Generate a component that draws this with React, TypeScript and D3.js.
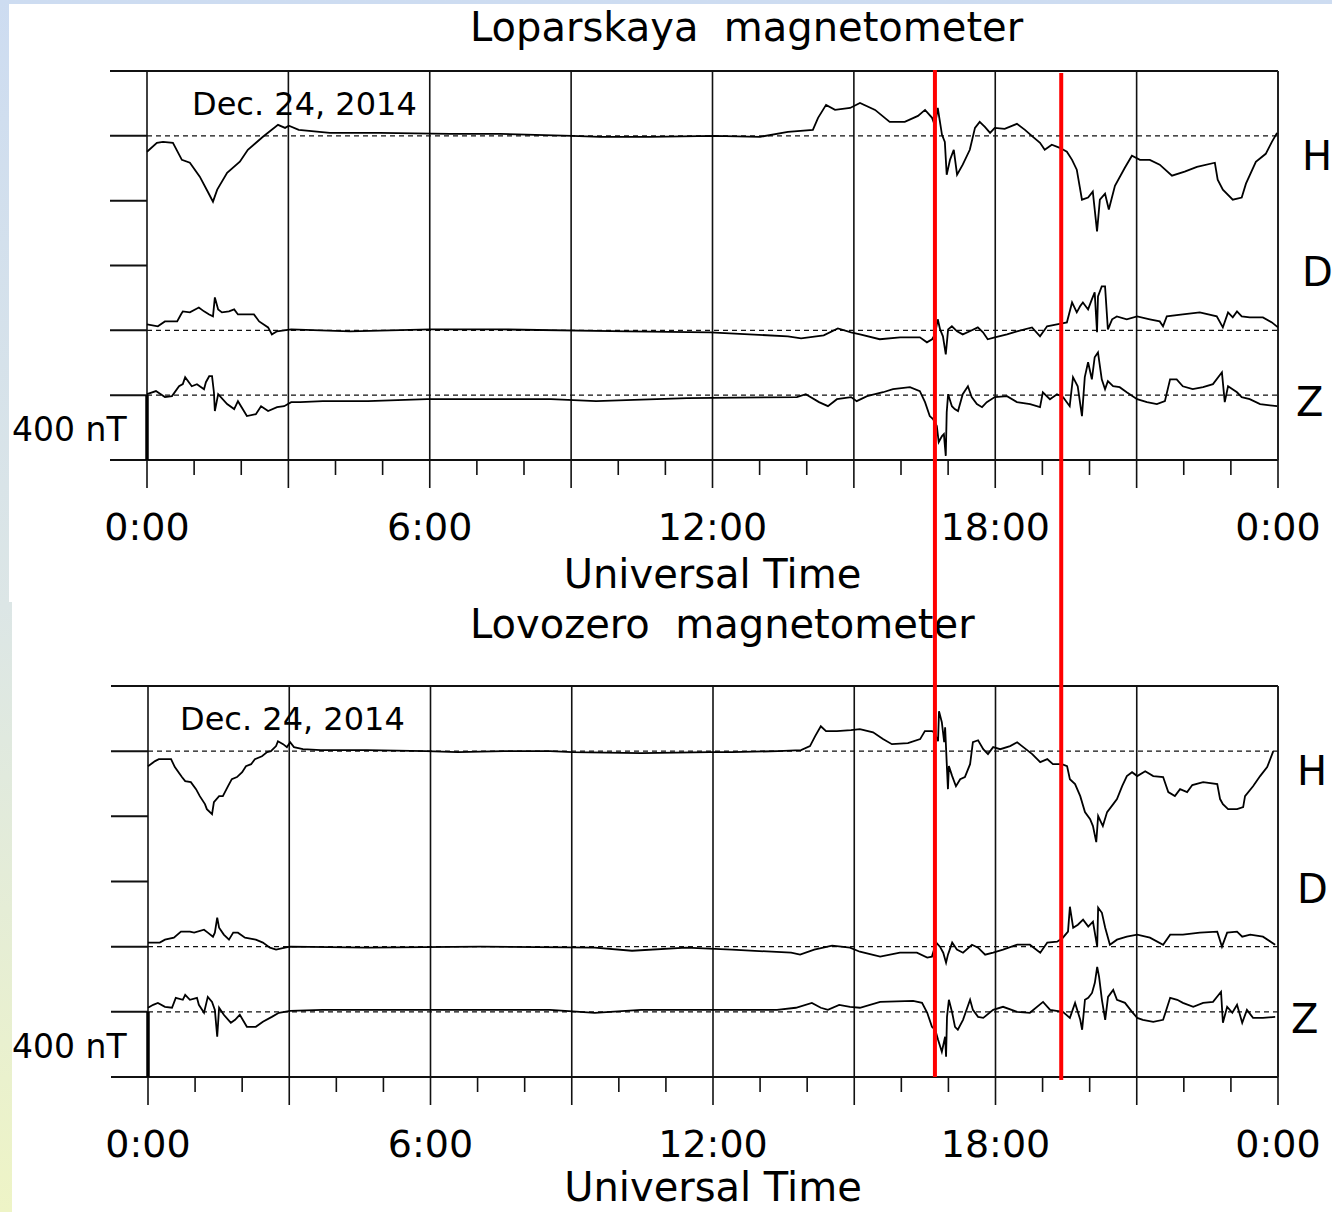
import React from "react";
import * as d3 from "d3";

// ---- data: [hour UT, nT relative to the component baseline] ----
const lopH: [number, number][] = [
  [0.0, -98], [0.21, -43], [0.34, -37], [0.55, -43], [0.74, -148], [0.91, -166], [1.12, -252],
  [1.29, -345], [1.4, -406], [1.49, -332], [1.7, -228], [1.97, -160], [2.14, -86], [2.46, -6],
  [2.78, 68], [2.93, 49], [3.01, 62], [3.22, 37], [3.88, 18], [4.94, 18], [6.43, 12], [7.49, 12],
  [9.02, 0], [9.61, -6], [10.67, -6], [12.03, 0], [13.01, -6], [13.6, 25], [14.13, 37], [14.24, 111],
  [14.41, 191], [14.6, 160], [14.92, 172], [15.13, 203], [15.45, 160], [15.76, 86], [16.08, 86],
  [16.36, 123], [16.51, 160], [16.66, 111], [16.72, 62], [16.78, 172], [16.87, 6], [16.93, -37],
  [16.97, -240], [17.04, -148], [17.12, -86], [17.19, -240], [17.31, -178], [17.46, -86], [17.57, 49],
  [17.67, 86], [17.78, 55], [17.89, 18], [17.99, 49], [18.2, 43], [18.46, 74], [18.63, 37],
  [18.8, -6], [18.95, -43], [19.05, -86], [19.2, -55], [19.37, -74], [19.52, -98], [19.63, -148],
  [19.73, -209], [19.84, -394], [19.97, -381], [20.07, -344], [20.16, -590], [20.22, -394],
  [20.33, -357], [20.41, -455], [20.54, -308], [20.75, -197], [20.9, -123], [21.07, -148],
  [21.28, -148], [21.49, -178], [21.75, -246], [22.02, -221], [22.28, -191], [22.66, -166],
  [22.72, -271], [22.83, -332], [23.04, -394], [23.23, -381], [23.32, -295], [23.53, -160],
  [23.74, -111], [23.87, -37], [23.98, 18],
];

const lopD: [number, number][] = [
  [0.0, 37], [0.23, 25], [0.38, 55], [0.64, 55], [0.72, 98], [0.76, 117], [0.91, 111], [1.1, 141],
  [1.21, 117], [1.32, 98], [1.4, 86], [1.44, 203], [1.51, 129], [1.59, 111], [1.74, 117], [1.85, 129],
  [1.93, 98], [2.08, 98], [2.27, 98], [2.38, 55], [2.57, 18], [2.65, -25], [2.76, -6], [3.06, 6],
  [4.31, -6], [6.0, 6], [7.49, 6], [10.21, -6], [11.95, -12], [13.6, -37], [13.88, -49], [14.36, -31],
  [14.66, 12], [14.94, -12], [15.13, -25], [15.55, -55], [15.98, -43], [16.4, -43], [16.55, -74],
  [16.66, -55], [16.72, -25], [16.78, 68], [16.83, 6], [16.89, -37], [16.95, -148], [17.0, 6],
  [17.08, 25], [17.19, -6], [17.31, -25], [17.46, -6], [17.63, 18], [17.74, -12], [17.84, -55],
  [17.99, -43], [18.25, -25], [18.46, -6], [18.78, 18], [18.95, -37], [19.1, 25], [19.31, 37],
  [19.52, 49], [19.63, 172], [19.73, 111], [19.8, 148], [19.86, 172], [19.97, 129], [20.05, 191],
  [20.11, 234], [20.16, -12], [20.18, 209], [20.26, 271], [20.33, 271], [20.39, 6], [20.48, 68],
  [20.58, 86], [20.79, 68], [21.01, 86], [21.28, 68], [21.49, 55], [21.56, 25], [21.64, 86],
  [21.98, 98], [22.34, 111], [22.7, 86], [22.83, 18], [22.94, 111], [23.04, 80], [23.13, 117],
  [23.23, 86], [23.4, 80], [23.68, 80], [23.87, 49], [24.0, 18],
];

const lopZ: [number, number][] = [
  [0.0, 6], [0.19, 25], [0.38, -12], [0.53, -6], [0.68, 55], [0.76, 68], [0.81, 111], [0.95, 55],
  [1.06, 68], [1.21, 37], [1.25, 80], [1.32, 117], [1.38, 117], [1.42, 18], [1.44, -98], [1.51, 6],
  [1.7, -55], [1.85, -86], [1.93, -37], [2.12, -129], [2.31, -117], [2.42, -68], [2.57, -98],
  [2.76, -74], [2.91, -68], [3.06, -43], [3.25, -43], [3.73, -37], [4.69, -37], [5.94, -25],
  [8.57, -25], [9.53, -37], [11.46, -18], [13.79, -12], [13.98, 6], [14.26, -43], [14.45, -68],
  [14.64, -25], [14.94, -12], [15.06, -37], [15.28, -6], [15.62, 18], [15.83, 37], [16.19, 49],
  [16.4, 25], [16.51, -43], [16.61, -129], [16.68, -148], [16.76, -191], [16.8, -289], [16.87, -252],
  [16.91, -240], [16.95, -375], [16.97, -105], [17.0, 6], [17.08, -68], [17.14, -86], [17.21, -98],
  [17.31, 6], [17.42, 55], [17.5, -12], [17.61, -55], [17.72, -74], [17.82, -43], [17.99, -12],
  [18.25, -6], [18.46, -43], [18.74, -55], [18.95, -74], [19.01, 18], [19.16, -25], [19.31, 6],
  [19.44, -12], [19.58, -68], [19.65, 111], [19.75, 55], [19.84, -129], [19.9, 111], [19.97, 203],
  [20.05, 98], [20.11, 234], [20.18, 264], [20.26, 98], [20.33, 37], [20.39, 86], [20.5, 55],
  [20.64, 49], [20.79, 18], [21.01, -25], [21.22, -43], [21.43, -55], [21.6, -37], [21.71, 98],
  [21.85, 98], [21.98, 55], [22.19, 37], [22.41, 49], [22.62, 68], [22.81, 141], [22.87, -43],
  [22.94, 55], [23.13, 18], [23.23, -12], [23.4, -25], [23.62, -55], [23.98, -68],
];

const lovH: [number, number][] = [
  [0.0, -92], [0.15, -61], [0.23, -49], [0.49, -49], [0.57, -98], [0.72, -159], [0.79, -184],
  [0.91, -190], [1.02, -233], [1.1, -276], [1.21, -325], [1.25, -356], [1.36, -386], [1.4, -313],
  [1.51, -276], [1.59, -276], [1.7, -215], [1.78, -172], [1.89, -159], [2.0, -129], [2.08, -92],
  [2.19, -80], [2.27, -49], [2.42, -31], [2.53, -6], [2.61, 0], [2.72, 31], [2.76, 61], [2.87, 43],
  [2.95, 25], [3.02, 55], [3.1, 25], [3.29, 12], [3.67, 6], [4.65, 6], [5.9, 0], [6.58, -6],
  [7.56, 0], [8.54, 0], [9.01, -6], [10.47, -12], [11.94, -6], [12.4, -6], [13.38, 0], [13.87, 6],
  [14.06, 31], [14.17, 92], [14.29, 153], [14.4, 123], [14.63, 123], [14.93, 129], [15.12, 135],
  [15.4, 116], [15.61, 74], [15.8, 43], [16.14, 49], [16.4, 74], [16.5, 123], [16.65, 123],
  [16.7, 116], [16.78, 61], [16.8, 245], [16.86, 178], [16.91, 55], [16.93, 147], [16.97, -110],
  [16.99, -233], [17.01, -92], [17.08, -153], [17.16, -215], [17.25, -172], [17.35, -159],
  [17.46, -80], [17.52, 55], [17.63, 67], [17.74, 12], [17.84, -18], [17.95, 25], [18.1, 12],
  [18.31, 31], [18.46, 55], [18.59, 25], [18.78, -18], [18.95, -67], [19.1, -49], [19.22, -80],
  [19.41, -80], [19.52, -92], [19.58, -172], [19.69, -202], [19.8, -276], [19.9, -374],
  [20.01, -417], [20.07, -460], [20.14, -558], [20.18, -398], [20.28, -460], [20.37, -374],
  [20.5, -325], [20.58, -294], [20.69, -215], [20.79, -153], [20.9, -129], [21.01, -153],
  [21.18, -123], [21.35, -153], [21.56, -159], [21.67, -251], [21.81, -276], [21.92, -233],
  [22.07, -251], [22.18, -208], [22.41, -190], [22.71, -202], [22.77, -294], [22.83, -325],
  [22.94, -356], [23.13, -356], [23.26, -343], [23.3, -276], [23.47, -215], [23.62, -153],
  [23.77, -98], [23.9, 0],
];

const lovD: [number, number][] = [
  [0.0, 25], [0.25, 25], [0.36, 43], [0.55, 55], [0.7, 92], [0.89, 92], [0.98, 86], [1.19, 104],
  [1.27, 86], [1.38, 61], [1.42, 86], [1.47, 178], [1.51, 116], [1.61, 74], [1.72, 43], [1.81, 86],
  [1.91, 86], [2.06, 55], [2.29, 43], [2.44, 25], [2.59, -6], [2.72, -18], [2.91, -6], [3.02, 0],
  [4.67, -6], [7.07, 0], [9.49, -6], [10.28, -25], [11.43, -6], [12.4, -18], [13.66, -37],
  [13.85, -49], [14.15, -18], [14.53, 6], [14.91, -6], [15.12, -31], [15.55, -61], [15.97, -37],
  [16.33, -37], [16.55, -67], [16.65, -61], [16.74, 25], [16.82, 0], [16.89, -37], [16.95, -98],
  [16.99, -49], [17.08, 25], [17.18, -18], [17.31, -37], [17.5, 12], [17.63, -6], [17.78, -49],
  [17.95, -37], [18.16, -18], [18.46, 12], [18.73, 12], [18.95, -37], [19.1, 25], [19.31, 31],
  [19.43, 55], [19.54, 92], [19.58, 245], [19.65, 116], [19.75, 135], [19.86, 166], [19.97, 123],
  [20.07, 153], [20.16, 0], [20.18, 239], [20.26, 208], [20.33, 116], [20.43, 12], [20.58, 43],
  [20.79, 61], [21.01, 74], [21.28, 55], [21.56, 12], [21.71, 74], [21.98, 74], [22.34, 86],
  [22.71, 92], [22.81, 0], [22.92, 86], [23.13, 92], [23.24, 61], [23.41, 74], [23.68, 61],
  [23.94, 12],
];

const lovZ: [number, number][] = [
  [0.0, 25], [0.11, 43], [0.21, 55], [0.36, 31], [0.51, 25], [0.59, 86], [0.74, 74], [0.79, 104],
  [0.89, 74], [1.04, 86], [1.08, 43], [1.19, -6], [1.27, 92], [1.36, 61], [1.42, 12], [1.47, -153],
  [1.51, 25], [1.61, -18], [1.76, -67], [1.85, -49], [1.95, -18], [2.1, -92], [2.29, -92],
  [2.44, -61], [2.63, -31], [2.78, -6], [3.02, 6], [3.7, 12], [5.63, 12], [8.54, 12], [9.49, -6],
  [10.47, 12], [13.36, 12], [13.76, 25], [14.1, 55], [14.29, 25], [14.44, 12], [14.68, 43],
  [14.91, 31], [15.12, 25], [15.55, 61], [16.25, 67], [16.44, 55], [16.55, -6], [16.65, -92],
  [16.72, -110], [16.78, -172], [16.86, -245], [16.93, -153], [16.95, -276], [16.97, -31],
  [17.01, 74], [17.08, -6], [17.14, -92], [17.2, -110], [17.31, -49], [17.4, 25], [17.46, 74],
  [17.52, 12], [17.63, -31], [17.74, -37], [17.95, 12], [18.16, 31], [18.46, 0], [18.73, -6],
  [19.01, 61], [19.16, 12], [19.43, 0], [19.58, -37], [19.69, 55], [19.8, -49], [19.84, -110],
  [19.9, 74], [19.97, 86], [20.05, 116], [20.11, 178], [20.16, 276], [20.2, 215], [20.26, 74],
  [20.33, -49], [20.39, 92], [20.5, 135], [20.58, 74], [20.75, 55], [20.9, 0], [21.01, -37],
  [21.13, -49], [21.35, -61], [21.56, -49], [21.71, 86], [21.86, 74], [21.98, 55], [22.2, 31],
  [22.41, 55], [22.62, 61], [22.79, 123], [22.83, -67], [22.92, 31], [23.03, -6], [23.13, 43],
  [23.24, -67], [23.34, 12], [23.47, -37], [23.68, -37], [23.94, -31],
];

const components = ["H", "D", "Z"];
const componentOffsets = [0, -1200, -1600]; // nT, where each trace's zero line sits
const yTicks = [-2000, -1600, -1200, -800, -400, 0, 400];
const hourTicks = d3.range(0, 25);
const timeLabels = ["0:00", "6:00", "12:00", "18:00", "0:00"];
const timeLabelHours = [0, 6, 12, 18, 24];
const eventHours = [16.72, 19.4];
const scaleBarNT = 400;

const stations = [
  { title: "Loparskaya  magnetometer", series: [lopH, lopD, lopZ] },
  { title: "Lovozero  magnetometer", series: [lovH, lovD, lovZ] },
];

const layouts = [
  { left: 147, right: 1278, top: 71, bottom: 460, titleY: 41, dateX: 192, labelX: 1302, axisTitleY: 588 },
  { left: 148, right: 1278, top: 686, bottom: 1077, titleY: 638, dateX: 180, labelX: 1297, axisTitleY: 1201 },
];

const FONT = "DejaVu Sans";

function Panel({ station, lay }: { station: any; lay: any }) {
  const x = d3.scaleLinear().domain([0, 24]).range([lay.left, lay.right]);
  const y = d3.scaleLinear().domain([-2000, 400]).range([lay.bottom, lay.top]);
  const stubX = lay.left - 37;

  return (
    <g>
      <text x={470} y={lay.titleY} fontSize={40} style={{ whiteSpace: "pre" }}>
        {station.title}
      </text>

      {/* left stubs, top and bottom frame */}
      {yTicks.map((t) => (
        <line key={t} x1={stubX} x2={t === 400 || t === -2000 ? lay.right : lay.left}
          y1={y(t)} y2={y(t)} stroke="#111" strokeWidth={2} />
      ))}
      <line x1={lay.right} x2={lay.right} y1={lay.top} y2={lay.bottom} stroke="#222" strokeWidth={2} />

      {/* hour ticks and 3-hour grid */}
      {hourTicks.map((h) => {
        const major = h % 3 === 0;
        return (
          <line key={h} x1={x(h)} x2={x(h)}
            y1={major && h < 24 ? lay.top : lay.bottom}
            y2={lay.bottom + (major ? 28 : 15)}
            stroke="#111" strokeWidth={1.6} />
        );
      })}

      {/* zero lines */}
      {componentOffsets.map((o) => (
        <line key={o} x1={lay.left} x2={lay.right} y1={y(o)} y2={y(o)}
          stroke="#111" strokeWidth={1.3} strokeDasharray="5,4" />
      ))}

      {station.series.map((s: [number, number][], i: number) => {
        const line = d3.line<[number, number]>()
          .x((d) => x(d[0]))
          .y((d) => y(d[1] + componentOffsets[i]));
        return <path key={i} d={line(s) || ""} fill="none" stroke="#000" strokeWidth={1.8} strokeLinejoin="miter" />;
      })}

      {/* 400 nT scale bar */}
      <line x1={lay.left} x2={lay.left} y1={y(-2000 + scaleBarNT)} y2={y(-2000)} stroke="#000" strokeWidth={3.5} />
      <text x={12} y={y(-2000) - 19} fontSize={33}>400 nT</text>

      <text x={lay.dateX} y={lay.top + 44} fontSize={32}>Dec. 24, 2014</text>

      {components.map((c, i) => (
        <text key={c} x={lay.labelX + (c === "Z" ? -6 : 0)} y={y(componentOffsets[i]) + (i === 0 ? 34 : i === 1 ? -44 : 21)} fontSize={40}>
          {c}
        </text>
      ))}

      {timeLabels.map((t, i) => (
        <text key={i} x={x(timeLabelHours[i])} y={lay.bottom + 80} fontSize={38} textAnchor="middle">
          {t}
        </text>
      ))}
      <text x={x(12)} y={lay.axisTitleY} fontSize={40} textAnchor="middle">Universal Time</text>
    </g>
  );
}

export default function App() {
  const top = layouts[0];
  const bot = layouts[1];
  const xTop = d3.scaleLinear().domain([0, 24]).range([top.left, top.right]);
  return (
    <svg width={1332} height={1212} style={{ position: "absolute", left: 0, top: 0 }}
      fontFamily={FONT} fill="#000">
      <defs>
        <linearGradient id="bg" x1="0" y1="0" x2="0" y2="1">
          <stop offset="0" stopColor="#cddcf1" />
          <stop offset="0.5" stopColor="#dce6e6" />
          <stop offset="1" stopColor="#eef4c6" />
        </linearGradient>
      </defs>
      <rect width={1332} height={1212} fill="url(#bg)" />
      <rect x={9} y={4} width={1323} height={598} fill="#fff" />
      <rect x={12} y={602} width={1320} height={610} fill="#fff" />

      <Panel station={stations[0]} lay={top} />
      <Panel station={stations[1]} lay={bot} />

      {eventHours.map((h, i) => (
        <line key={h} x1={xTop(h)} x2={xTop(h)} y1={top.top - 1 + i * 3} y2={bot.bottom + i * 3}
          stroke="#ff0000" strokeWidth={4} />
      ))}
    </svg>
  );
}
